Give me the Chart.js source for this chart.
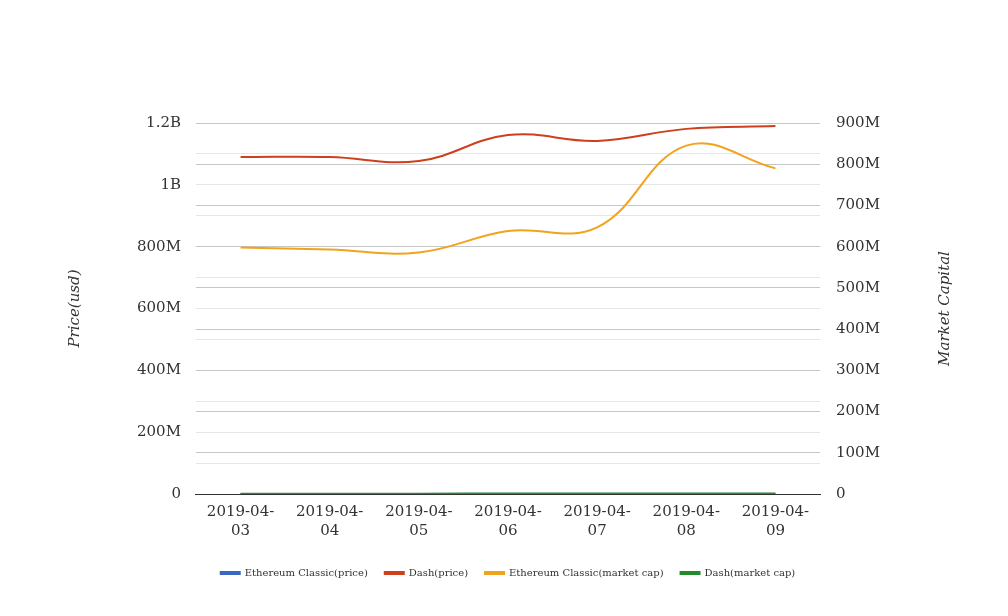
<!DOCTYPE html>
<html>
<head>
<meta charset="utf-8">
<script src="https://cdn.jsdelivr.net/npm/chart.js@4"></script>
<style>
  html, body { margin: 0; padding: 0; background: #fff; }
  #wrap { width: 1008px; height: 616px; }
</style>
</head>
<body>
<div id="wrap"><canvas id="chart" width="1008" height="616"></canvas></div>
<script>
// ------------ //
//  CHART DATA  //
// ------------ //
var dates = ["2019-04-03", "2019-04-04", "2019-04-05", "2019-04-06", "2019-04-07", "2019-04-08", "2019-04-09"];

// price series (left axis)
var etcPrice = [4.6, 4.6, 4.5, 4.8, 4.7, 5.9, 5.6];
var dashPrice = [1.090e9, 1.090e9, 1.077e9, 1.161e9, 1.142e9, 1.181e9, 1.190e9];

// market cap series (right axis)
var etcMarketCap = [598e6, 593e6, 586e6, 638e6, 647e6, 845e6, 790e6];
var dashMarketCap = [0.9e6, 0.9e6, 0.9e6, 1.0e6, 1.0e6, 1.0e6, 1.0e6];

var seriesNames = ["Ethereum Classic(price)", "Dash(price)", "Ethereum Classic(market cap)", "Dash(market cap)"];
var seriesColors = ["rgb(58, 104, 192)", "rgb(206, 64, 28)", "rgb(242, 163, 30)", "rgb(32, 140, 42)"];

var rightTitle = "Market Capital";


// ------------------ //
//  HELPER FUNCTIONS  //
// ------------------ //

// Formats an axis value as 1.2B / 800M / 0
function formatBig(v)
{
  if(v == 0) return "0";
  if(Math.abs(v) >= 1e9) return (Math.round(v / 1e8) / 10) + "B";
  return Math.round(v / 1e6) + "M";
}

// Splits a date label onto two lines the way the reference wraps it
function splitDate(d)
{
  return [d.slice(0, 8), d.slice(8)];
}

var serif = "'DejaVu Serif', serif";

function makeSet(i, data, axis)
{
  return {
    label: seriesNames[i],
    data: data,
    yAxisID: axis,
    borderColor: seriesColors[i],
    backgroundColor: seriesColors[i],
    borderWidth: 2,
    pointRadius: 0,
    tension: 0.4,
    fill: false
  };
}

// right axis title reads bottom-to-top in the reference, so draw it by hand
var rightTitlePlugin = {
  id: "rightTitle",
  afterDraw: function(chart) {
    var c = chart.ctx;
    var area = chart.chartArea;
    c.save();
    c.translate(945, (area.top + area.bottom) / 2);
    c.rotate(-Math.PI / 2);
    c.fillStyle = "#333";
    c.font = "italic 15px " + serif;
    c.textAlign = "center";
    c.textBaseline = "middle";
    c.fillText(rightTitle, 0, 0);
    c.restore();
  }
};

// ----------- //
//  THE CHART  //
// ----------- //
const ctx = document.getElementById("chart");
new Chart(ctx, {
  type: "line",
  data: {
    labels: dates.map(splitDate),
    datasets: [
      makeSet(0, etcPrice, "yLeft"),
      makeSet(1, dashPrice, "yLeft"),
      makeSet(2, etcMarketCap, "yRight"),
      makeSet(3, dashMarketCap, "yRight")
    ]
  },
  plugins: [rightTitlePlugin],
  options: {
    responsive: false,
    animation: false,
    layout: { padding: { top: 123, left: 62, right: 54, bottom: 28 } },
    plugins: {
      tooltip: { enabled: false },
      legend: {
        position: "bottom",
        labels: {
          color: "#333",
          boxWidth: 19,
          boxHeight: 2,
          padding: 17,
          font: { family: serif, size: 10 }
        }
      }
    },
    scales: {
      x: {
        offset: true,
        grid: { display: false },
        border: { display: true, color: "#333", width: 1 },
        afterFit: function(axis) { axis.height += 10; },
        ticks: {
          color: "#333",
          maxRotation: 0,
          padding: 0,
          font: { family: serif, size: 15, lineHeight: 1.3 }
        }
      },
      yLeft: {
        position: "left",
        min: 0,
        max: 1.2e9,
        border: { display: false },
        grid: {
          drawTicks: false,
          color: "#e6e6e6"
        },
        ticks: {
          stepSize: 1e8,
          padding: 15,
          color: "#333",
          font: { family: serif, size: 15 },
          callback: function(v, i) { return (i % 2 == 0) ? formatBig(v) : ""; }
        },
        title: {
          display: true,
          text: "Price(usd)",
          color: "#333",
          padding: { bottom: 38 },
          font: { family: serif, size: 15, style: "italic" }
        }
      },
      yRight: {
        position: "right",
        min: 0,
        max: 9e8,
        border: { display: false },
        afterFit: function(axis) { axis.width = 134; },
        grid: {
          drawTicks: false,
          color: function(c) { return (c.index % 2 == 0) ? "#c6c6c6" : "#e6e6e6"; }
        },
        ticks: {
          stepSize: 5e7,
          padding: 16,
          color: "#333",
          font: { family: serif, size: 15 },
          callback: function(v, i) { return (i % 2 == 0) ? formatBig(v) : ""; }
        }
      }
    }
  }
});
</script>
</body>
</html>
